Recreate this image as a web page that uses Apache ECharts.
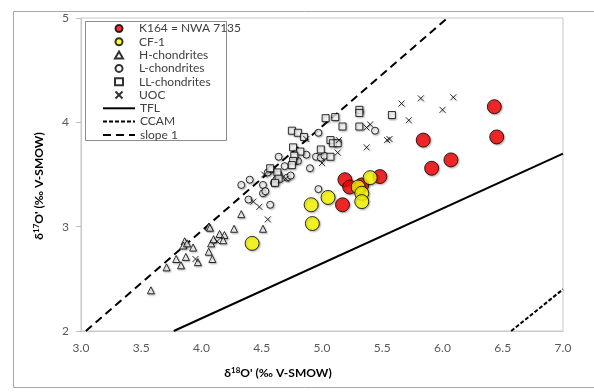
<!DOCTYPE html>
<html>
<head>
<meta charset="utf-8">
<script src="https://cdn.jsdelivr.net/npm/echarts@6/dist/echarts.min.js"></script>
<style>
  html, body { margin: 0; padding: 0; background: #fff; }
  #chart { width: 594px; height: 392px; }
</style>
</head>
<body>
<div id="chart"></div>
<script>
// values: [δ18O', δ17O']
const k164 = [[6.43, 4.15], [6.45, 3.86], [5.84, 3.83], [6.07, 3.64], [5.91, 3.56],
  [5.19, 3.45], [5.23, 3.38], [5.33, 3.40], [5.48, 3.48], [5.17, 3.21]];
const cf1 = [[5.40, 3.47], [5.30, 3.38], [5.33, 3.32], [5.33, 3.24], [5.05, 3.28],
  [4.91, 3.21], [4.92, 3.03], [4.42, 2.84]];
const hChondrites = [[3.58, 2.39], [3.71, 2.61], [3.79, 2.69], [3.83, 2.63], [3.86, 2.86],
  [3.85, 2.82], [3.88, 2.84], [3.87, 2.71], [3.93, 2.80], [3.97, 2.66], [4.06, 3.00],
  [4.07, 2.99], [4.06, 2.76], [4.09, 2.69], [4.08, 2.84], [4.10, 2.88], [4.15, 2.93],
  [4.19, 2.92], [4.18, 2.87], [4.27, 2.98], [4.33, 3.12], [4.51, 2.98]];
const lChondrites = [[4.33, 3.40], [4.40, 3.45], [4.39, 3.26], [4.51, 3.40], [4.51, 3.32],
  [4.53, 3.34], [4.57, 3.21], [4.60, 3.42], [4.55, 3.52], [4.58, 3.55], [4.62, 3.45],
  [4.64, 3.50], [4.64, 3.67], [4.69, 3.58], [4.71, 3.47], [4.74, 3.49], [4.80, 3.63],
  [4.87, 3.69], [4.90, 3.56], [4.95, 3.67], [4.99, 3.66], [5.02, 3.68], [4.97, 3.90],
  [4.97, 3.36], [5.44, 3.92]];
const llChondrites = [[5.03, 4.04], [5.11, 4.05], [5.31, 4.12], [5.31, 4.09], [5.58, 4.07],
  [5.17, 3.96], [5.31, 3.96], [4.75, 3.92], [4.80, 3.90], [4.85, 3.86], [5.07, 3.83],
  [5.09, 3.80], [5.13, 3.80], [4.99, 3.74], [4.76, 3.76], [4.82, 3.72], [4.77, 3.68],
  [4.76, 3.63], [4.75, 3.59], [5.07, 3.67], [4.57, 3.56], [4.63, 3.52], [4.64, 3.46],
  [4.61, 3.42]];
const uoc = [[5.66, 4.18], [5.82, 4.23], [6.09, 4.24], [6.00, 4.12], [5.72, 4.02],
  [5.56, 3.84], [5.37, 3.95], [5.40, 3.98], [5.54, 3.83], [5.37, 3.76], [5.14, 3.83],
  [5.13, 3.71], [5.00, 3.61], [4.70, 3.46], [4.87, 3.84], [4.52, 3.50], [4.48, 3.19],
  [4.43, 3.24], [4.55, 3.07], [3.95, 2.69], [4.13, 2.86]];

// reference lines, end points where they meet the plot frame
const tflLine = [[3.77, 2.0], [7.0, 3.70]];
const ccamLine = [[6.57, 2.0], [7.0, 2.40]];
const slope1Line = [[3.04, 2.0], [6.04, 5.0]];

const markerNames = ["K164 = NWA 7135", "CF-1", "H-chondrites", "L-chondrites",
  "LL-chondrites", "UOC"];
const lineNames = ["TFL", "CCAM", "slope 1"];
const xTicks = { min: 3, max: 7, step: 0.5 };
const yTicks = { min: 2, max: 5, step: 1 };

const FONT = "Lato, 'Open Sans', sans-serif";
const crossPath = "path://M0,0L10,10M10,0L0,10";

const shadow = {
  shadowBlur: 2,
  shadowOffsetX: 1,
  shadowOffsetY: 1,
  shadowColor: "rgba(0,0,0,0.35)",
};

const openMarker = (name, data, symbol, size) => ({
  name,
  type: "scatter",
  data,
  symbol,
  symbolSize: size,
  itemStyle: Object.assign({ color: "#fff", borderColor: "#000", borderWidth: 1 }, shadow),
  z: 3,
});

const bigMarker = (name, data, color, z) => ({
  name,
  type: "scatter",
  data,
  symbol: "circle",
  symbolSize: 14,
  itemStyle: Object.assign({ color, borderColor: "#000", borderWidth: 1 }, shadow),
  z,
});

const refLine = (name, data, type, width) => ({
  name,
  type: "line",
  data,
  symbol: "none",
  lineStyle: { color: "#000", width, type },
  itemStyle: { color: "#000" },
  z: 2,
});

const legendText = { fontFamily: FONT, fontSize: 12, color: "#404040", lineHeight: 13 };

const chart = echarts.init(document.getElementById("chart"));

chart.setOption({
  animation: false,
  textStyle: { fontFamily: FONT },
  grid: { left: 81, right: 31, top: 18, bottom: 61, show: true, borderColor: "#c8c8c8", borderWidth: 1 },
  legend: [
    {
      // point series: small icon slot centred under the line icons
      data: markerNames,
      orient: "vertical",
      left: 114,
      top: 22,
      padding: 0,
      itemWidth: 8,
      itemHeight: 7,
      itemGap: 0.3,
      formatter: (name) => `{t|${name}}`,
      textStyle: Object.assign({}, legendText, {
        rich: { t: Object.assign({ padding: [0, 0, 0, 11] }, legendText) },
      }),
    },
    {
      data: lineNames.map((name) => ({
        name,
        itemStyle: { color: "rgba(0,0,0,0)", borderWidth: 0, shadowBlur: 0 },
      })),
      orient: "vertical",
      left: 102,
      top: 22 + 6 * 13.3,
      padding: 0,
      itemWidth: 32,
      itemHeight: 7,
      itemGap: 0.3,
      textStyle: legendText,
    },
  ],
  xAxis: {
    type: "value",
    min: xTicks.min,
    max: xTicks.max,
    interval: xTicks.step,
    axisLine: { show: true, lineStyle: { color: "#c8c8c8" } },
    axisTick: { show: false },
    splitLine: { show: false },
    axisLabel: {
      color: "#595959",
      fontSize: 12,
      margin: 11,
      formatter: (v) => v.toFixed(1),
    },
  },
  yAxis: {
    type: "value",
    min: yTicks.min,
    max: yTicks.max,
    interval: yTicks.step,
    axisLine: { show: true, lineStyle: { color: "#c8c8c8" } },
    axisTick: { show: true, length: 5, lineStyle: { color: "#bfbfbf" } },
    splitLine: { show: false },
    axisLabel: { color: "#595959", fontSize: 12, margin: 12 },
  },
  graphic: [
    {
      type: "rect",
      shape: { x: 13.5, y: 11.5, width: 620, height: 376 },
      style: { fill: "none", stroke: "#a6a6a6", lineWidth: 1 },
      silent: true,
    },
    {
      // legend frame
      type: "rect",
      shape: { x: 85.5, y: 21.5, width: 141, height: 119 },
      style: { fill: "none", stroke: "#8c8c8c", lineWidth: 1 },
      silent: true,
    },
    {
      type: "text",
      x: 278,
      y: 373,
      style: {
        text: "{n|δ}{s|18}{n|O' (‰ V-SMOW)}",
        align: "center",
        verticalAlign: "middle",
        rich: {
          n: { fontFamily: FONT, fontSize: 12, fontWeight: "bold", fill: "#000", lineHeight: 14 },
          s: { fontFamily: FONT, fontSize: 8, fontWeight: "bold", fill: "#000", lineHeight: 9, verticalAlign: "top" },
        },
      },
    },
    {
      type: "text",
      x: 39,
      y: 186,
      rotation: Math.PI / 2,
      style: {
        text: "{n|δ}{s|17}{n|O' (‰ V-SMOW)}",
        align: "center",
        verticalAlign: "middle",
        rich: {
          n: { fontFamily: FONT, fontSize: 12, fontWeight: "bold", fill: "#000", lineHeight: 14 },
          s: { fontFamily: FONT, fontSize: 8, fontWeight: "bold", fill: "#000", lineHeight: 9, verticalAlign: "top" },
        },
      },
    },
  ],
  series: [
    refLine("TFL", tflLine, "solid", 2),
    refLine("CCAM", ccamLine, [4, 2], 2),
    refLine("slope 1", slope1Line, [8, 5], 2),
    openMarker("H-chondrites", hChondrites, "triangle", 7),
    openMarker("L-chondrites", lChondrites, "circle", 7),
    openMarker("LL-chondrites", llChondrites, "rect", 7),
    openMarker("UOC", uoc, crossPath, 6),
    bigMarker("K164 = NWA 7135", k164, "#ff0000", 4),
    bigMarker("CF-1", cf1, "#ffff00", 5),
  ],
});
</script>
</body>
</html>
